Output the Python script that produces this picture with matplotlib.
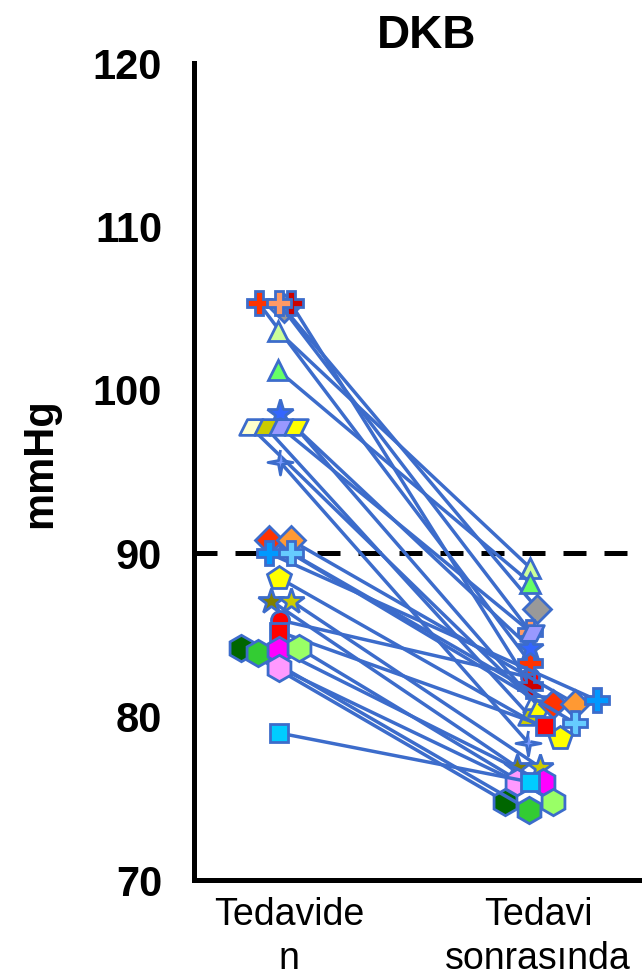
import numpy as np
import matplotlib.pyplot as plt
from matplotlib.path import Path

plt.rcParams['font.family'] = ['Liberation Sans', 'DejaVu Sans']

# data
categories = ['Tedavide\nn', 'Tedavi\nsonrasında']
pre = [105.0, 85.9, 105.3, 105.3, 105.3, 103.6, 101.2, 98.6, 97.7, 97.7, 97.7, 97.7,
       95.6, 90.8, 90.8, 90.0, 90.0, 88.5, 87.1, 87.1, 85.2,
       84.2, 83.9, 84.1, 84.2, 83.0, 79.0]
post = [86.6, 82.4, 83.3, 81.9, 85.2, 89.1, 88.2, 84.2, 80.8, 80.0, 85.1, 80.5,
        78.4, 80.8, 80.8, 81.0, 79.6, 78.7, 76.9, 76.9, 79.4,
        74.8, 74.3, 76.0, 74.8, 76.0, 76.0]
title = 'DKB'
ylabel = 'mmHg'
threshold = 90

# custom markers
parallelogram = Path([(-0.75, -0.5), (0.25, -0.5), (0.75, 0.5), (-0.25, 0.5), (-0.75, -0.5)],
                     [Path.MOVETO, Path.LINETO, Path.LINETO, Path.LINETO, Path.CLOSEPOLY])
ang = np.arange(8) * np.pi / 4 + np.pi / 2
rad = np.where(np.arange(8) % 2 == 0, 1.0, 0.22)
star4 = Path(np.column_stack([rad * np.cos(ang), rad * np.sin(ang)]), closed=False)

# style per subject: marker, face colour, size, x jitter (px) before/after
styles = [
    ('D', '#999999', 14, 0, -1),
    ('o', '#FF0000', 13, -4, -8),
    ('P', '#FF3300', 17, -25, -8),
    ('P', '#CC0000', 17, 7, -8),
    ('P', '#FF9966', 17, -5, -8),
    ('^', '#CCFF99', 15, -6, -8),
    ('^', '#66FF66', 15, -6, -8),
    ('*', '#3366FF', 20, -4, -8),
    (parallelogram, '#FFFFCC', 17, -33, -3),
    (parallelogram, '#CCCC00', 17, -18, -8),
    (parallelogram, '#9999FF', 17, -3, -6),
    (parallelogram, '#FFFF00', 17, 12, 2),
    (star4, '#7799FF', 18, -4, -10),
    ('D', '#FF3300', 14, -15, 15),
    ('D', '#FF9933', 14, 7, 37),
    ('P', '#0099FF', 17, -15, 59),
    ('P', '#66CCFF', 17, 7, 37),
    ('p', '#FFFF00', 18, -5, 22),
    ('*', '#808000', 19, -13, -21),
    ('*', '#CCCC00', 19, 7, 2),
    ('s', '#FF0000', 13, -5, 7),
    ('h', '#006600', 19, -43, -33),
    ('h', '#33CC33', 19, -26, -9),
    ('h', '#FF00FF', 19, -5, 5),
    ('h', '#99FF66', 19, 15, 15),
    ('h', '#FF99FF', 19, -5, -21),
    ('s', '#00CCFF', 13, -5, -8),
]

line_blue = '#3C6CCB'
px = 255.0

fig = plt.figure(figsize=(6.42, 9.76), dpi=100)
ax = fig.add_axes([194 / 642, 1 - 880 / 976, 1 - 194 / 642, (880 - 63) / 976])

ax.axhline(threshold, color='black', lw=3.6, dashes=(4.6, 3.6), zorder=1)

for (mk, fc, ms, j0, j1), y0, y1 in zip(styles, pre, post):
    ax.plot([0 + j0 / px, 1 + j1 / px], [y0, y1], color=line_blue, lw=2.5,
            marker=mk, markersize=ms, markerfacecolor=fc,
            markeredgecolor=line_blue, markeredgewidth=2.0, zorder=2)

ax.set_ylim(70, 120)
ax.set_yticks(np.arange(70, 121, 10))
ax.set_xlim((193 - 283) / px, (642 - 283) / px)
ax.set_xticks([0.02, 1.0])
ax.set_xticklabels(categories, fontsize=27, linespacing=1.3)
for lab in ax.get_yticklabels():
    lab.set_fontsize(30)
    lab.set_fontweight('bold')
ax.tick_params(axis='y', length=0, pad=23)
ax.tick_params(axis='x', length=0, pad=12)

for s in ['top', 'right']:
    ax.spines[s].set_visible(False)
for s in ['left', 'bottom']:
    ax.spines[s].set_linewidth(3.6)

fig.text(427 / 642, 1 - 48 / 976, title, ha='center', va='baseline',
         fontsize=33, fontweight='bold')
fig.text(40 / 642, 1 - 463 / 976, ylabel, ha='center', va='center',
         rotation=90, fontsize=30, fontweight='bold')

fig.savefig('out.png', dpi=100)
